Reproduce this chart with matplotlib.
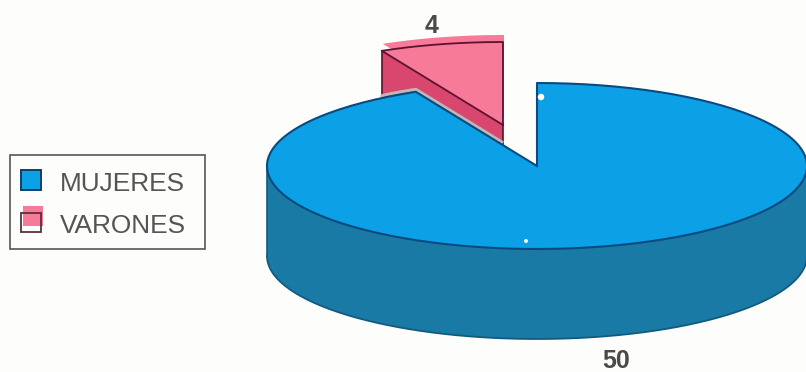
import numpy as np
import matplotlib
matplotlib.use("Agg")
import matplotlib.pyplot as plt
from matplotlib.patches import Rectangle

categories = ["MUJERES", "VARONES"]
values = [50, 4]
value_labels = ["50", "4"]

plt.rcParams['font.family'] = ['Liberation Sans', 'DejaVu Sans']

W, H = 806, 372
fig = plt.figure(figsize=(W / 100, H / 100), dpi=100, facecolor="#fdfdfc")
ax = fig.add_axes([0, 0, 1, 1])
ax.set_xlim(0, W)
ax.set_ylim(H, 0)
ax.axis("off")

# pie geometry in picture pixels
cx, cy, rx, ry, depth = 537, 166, 270, 83, 90
shift_x, shift_y = -34, -41   # pulled out slice


def rim(a, b, dx=0, dy=0):
    # angles in degrees, clockwise from 12 o'clock
    t = np.radians(np.linspace(a, b, 200))
    return cx + dx + rx * np.sin(t), cy + dy - ry * np.cos(t)


total = sum(values)
end_blue = 360 * values[0] / total

# ---- VARONES, drawn first so the blue slice covers its lower part
x, y = rim(end_blue, 360, shift_x, shift_y)
apex_x, apex_y = cx + shift_x, cy + shift_y
top_x = np.r_[apex_x, x]
top_y = np.r_[apex_y, y]
left_x = x[0]

side_x = [x[0], apex_x, apex_x, x[0]]
side_y = [y[0], apex_y, apex_y + depth, y[0] + depth]
ax.fill(side_x, side_y, color="#d9476f", lw=0, zorder=2)
ax.fill(top_x + 1, top_y - 7, color="#f77a98", lw=0, zorder=3)
ax.fill(top_x, top_y, color="#f77a98", lw=0, zorder=3)
ax.plot(np.r_[top_x, apex_x], np.r_[top_y, apex_y], color="#5c1230", lw=1.3, zorder=4)
ax.plot([x[0], x[0]], [y[0], y[0] + depth], color="#5c1230", lw=1.2, zorder=2.5)
ax.plot([apex_x, apex_x], [apex_y, apex_y + depth], color="#5c1230", lw=1.2, zorder=2.5)

# ---- MUJERES
x, y = rim(0, end_blue)
blue_x = np.r_[cx, x, cx]
blue_y = np.r_[cy, y, cy]

# pale strip along the cut, only where the pink slice sits behind it
keep = (x < cx) & (x >= left_x)
cut_x = np.r_[x[keep], apex_x]
cut_y = np.r_[y[keep], cy + (apex_x - cx) * (cy - y[-1]) / (cx - x[-1])]
ax.plot(cut_x, cut_y - 2.5, color="#bdb9b9", lw=2.2, zorder=4.5, solid_capstyle="butt")

fx, fy = rim(90, 270)
ax.fill(np.r_[fx, fx[::-1]], np.r_[fy, fy[::-1] + depth], color="#1a7aa6", lw=0, zorder=5)
ax.plot(np.r_[fx[-1], fx[-1]], [fy[-1], fy[-1] + depth], color="#135a80", lw=1.2, zorder=6)
ax.plot(fx, fy + depth, color="#135a80", lw=1.3, zorder=6)

ax.fill(blue_x, blue_y, color="#0ca0e6", lw=0, zorder=7)
ax.plot(blue_x, blue_y, color="#0b4a80", lw=1.5, zorder=8)

# small white specks on the print
ax.scatter([541, 526], [97, 241], s=[22, 8], color="white", lw=0, zorder=9)

# value labels
ax.text(432, 26, value_labels[1], fontsize=18, fontweight="bold", color="#4a4a48",
        ha="center", va="center")
ax.text(616, 361, value_labels[0], fontsize=18, fontweight="bold", color="#4a4a48",
        ha="center", va="center")

# legend by hand, the swatches are misregistered in the print
ax.add_patch(Rectangle((9.5, 154.5), 195, 94, fc="none", ec="#555555", lw=1.2))
ax.add_patch(Rectangle((21, 170), 20, 20, fc="#0ca0e6", ec="#0d3f66", lw=1.4))
ax.add_patch(Rectangle((23, 206), 20, 20, fc="#f77a98", ec="none"))
ax.add_patch(Rectangle((21, 213), 20, 19, fc="none", ec="#5c3040", lw=1.3))
ax.text(60, 184, categories[0], fontsize=18.9, color="#555555", va="center")
ax.text(60, 226, categories[1], fontsize=18.9, color="#555555", va="center")

fig.savefig("out.png", dpi=100, facecolor=fig.get_facecolor())
